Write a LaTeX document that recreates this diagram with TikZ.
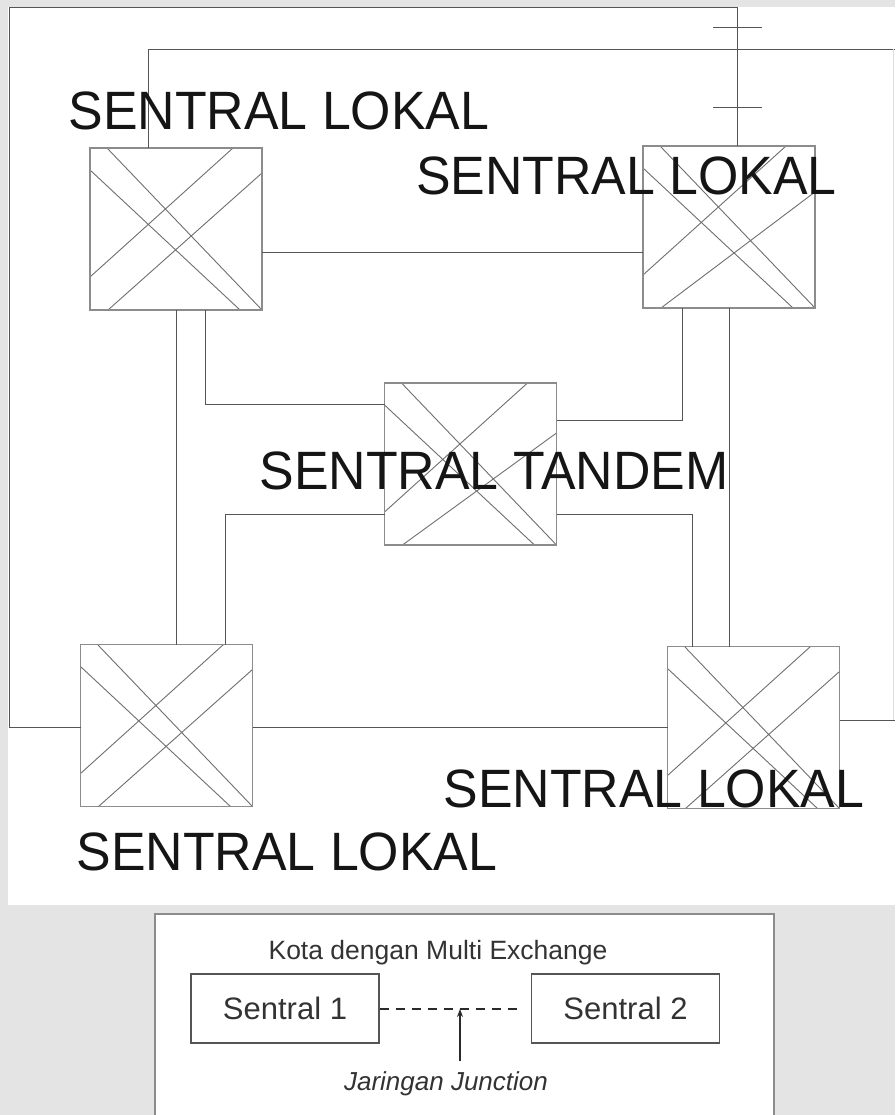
\documentclass[tikz,border=0pt]{standalone}
\usepackage{fontspec}
\setmainfont{Liberation Sans}
\usepackage{graphicx}
\usetikzlibrary{arrows.meta}
\definecolor{bgc}{HTML}{E4E4E4}
\definecolor{connc}{HTML}{555555}
\definecolor{boxc}{HTML}{8C8C8C}
\definecolor{xc}{HTML}{6F6F6F}
\definecolor{txtc}{HTML}{151515}
\definecolor{ltxt}{HTML}{333333}
\definecolor{darkc}{HTML}{2A2A2A}
\definecolor{faintc}{HTML}{DDDDDD}
\begin{document}
\begin{tikzpicture}[x=1pt,y=-1pt,
  conn/.style={draw=connc,line width=0.9pt},
  xbox/.style={draw=boxc,line width=1.4pt,minimum width=172pt,minimum height=162pt,
    inner sep=0pt,outer sep=0pt,
    path picture={
      \draw[xc,line width=0.9pt]
        ([shift={(17,0)}]path picture bounding box.north west) -- ([shift={(172,162)}]path picture bounding box.north west)
        ([shift={(0,22)}]path picture bounding box.north west) -- ([shift={(150,162)}]path picture bounding box.north west)
        ([shift={(143,0)}]path picture bounding box.north west) -- ([shift={(0,129)}]path picture bounding box.north west)
        ([shift={(172,#1)}]path picture bounding box.north west) -- ([shift={(18,162)}]path picture bounding box.north west);
    }},
  xbox/.default=25,
  big/.style={font=\fontsize{54}{54}\selectfont, text=txtc, inner sep=0pt, anchor=base},
  sbox/.style={draw=darkc!80,line width=1.2pt,minimum width=188pt,minimum height=69pt,inner sep=0pt,
    font=\fontsize{31}{32}\selectfont,text=ltxt},
]
\useasboundingbox (0,0) rectangle (895,1115);
% backgrounds
\fill[bgc] (0,0) rectangle (895,1115);
\fill[white] (8,7) rectangle (895,905);
\fill[white] (155,914) rectangle (774,1115);
\draw[draw=boxc,line width=1.3pt] (155,1115) -- (155,914) -- (774,914) -- (774,1115);

% exchanges
\node[xbox] (TL) at (176,229) {};
\node[xbox=46] (TR) at (729,227) {};
\node[xbox=50] (T) at (470.5,464) {};
\node[xbox] (BL) at (166.5,725.5) {};
\node[xbox] (BR) at (753.5,727.5) {};

% connectors
\draw[conn] (TL.east |- 0,252) -- (TR.west |- 0,252);
\draw[conn] (TL.south) -- (TL.south |- BL.north);
\draw[conn] (TL.south -| 205,0) |- (T.west |- 0,404);
\draw[conn] (T.west |- 0,514) -| (BL.north -| 225,0);
\draw[conn] (TR.south -| 682,0) |- (T.east |- 0,420);
\draw[conn] (TR.south) -- (TR.south |- BR.north);
\draw[conn] (T.east |- 0,514) -| (BR.north -| 692,0);
\draw[conn] (BL.east |- 0,727) -- (BR.west |- 0,727);
\coordinate (lc) at (9,7);
\draw[conn] (BL.west |- 0,727) -| (lc) -| (TR.north -| 737,0);
\draw[conn] (713,27) -- (762,27);
\draw[conn] (713,107) -- (762,107);
\coordinate (rc) at (895,49);
\draw[conn] (TL.north -| 148,0) |- (rc);
\coordinate (rb) at (895,720);
\draw[conn] (BR.east |- 0,720) -- (rb);
\draw[faintc,line width=0.8pt] (893.5,49) -- (893.5,720);

% labels
\node[big] (lTL) at (279,130) {\scalebox{0.96}[1]{SENTRAL LOKAL}};
\node[big] (lTR) at (626.5,195) {\scalebox{0.96}[1]{SENTRAL LOKAL}};
\node[big] (lT) at (494,489) {\scalebox{0.96}[1]{SENTRAL TANDEM}};
\node[big] (lBR) at (654,807) {\scalebox{0.96}[1]{SENTRAL LOKAL}};
\node[big] (lBL) at (287,870) {\scalebox{0.96}[1]{SENTRAL LOKAL}};

% legend
\node[font=\fontsize{26.5}{28}\selectfont,text=ltxt,inner sep=0pt,anchor=base] (K) at (438,959) {Kota dengan Multi Exchange};
\node[sbox] (S1) at (285,1008.5) {Sentral 1};
\node[sbox] (S2) at (625.5,1008.5) {Sentral 2};
\draw[draw=darkc,line width=2pt,dash pattern=on 9pt off 7pt] (S1.east) -- ([xshift=-12pt]S2.west);
\node[font=\itshape\fontsize{26}{28}\selectfont,text=ltxt,inner sep=0pt,anchor=base] (J) at (446,1090) {Jaringan Junction};
\coordinate (ja) at (460,1061);
\coordinate (jb) at (460,1009);
\draw[draw=darkc,line width=1.2pt,-{Stealth[length=8pt,width=6pt]}] (ja) -- (jb);
\end{tikzpicture}
\end{document}
